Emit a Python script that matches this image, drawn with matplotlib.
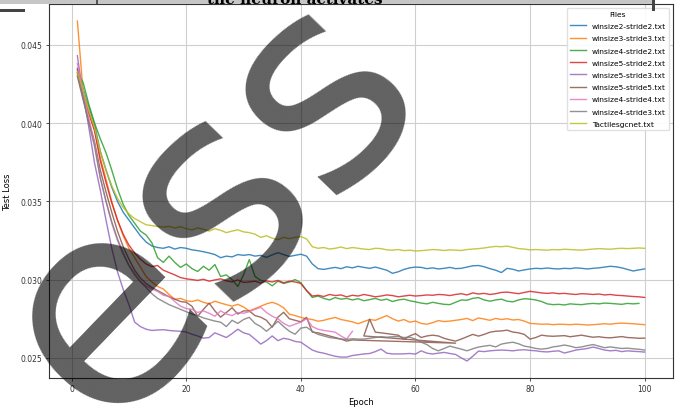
import numpy as np
import matplotlib
matplotlib.use("Agg")
import matplotlib.pyplot as plt
from matplotlib.patches import Rectangle

# Test loss per epoch, stored in units of 1e-5
winsize2_stride2 = [
    4350, 4220, 4100, 3990, 3820, 3700, 3590, 3500, 3430, 3380, 3330, 3280, 3240, 3215, 3205,
    3200, 3210, 3195, 3205, 3200, 3190, 3185, 3178, 3170, 3160, 3140, 3150, 3145, 3160, 3155,
    3160, 3150, 3155, 3142, 3158, 3172, 3160, 3148, 3155, 3162, 3150, 3100, 3070, 3065, 3072,
    3078, 3070, 3082, 3075, 3085, 3078, 3072, 3080, 3070, 3060, 3040, 3050, 3065, 3075, 3080,
    3078, 3070, 3075, 3068, 3072, 3078, 3070, 3072, 3080, 3088, 3090, 3082, 3070, 3060, 3045,
    3072, 3066, 3055, 3062, 3068, 3072, 3070, 3074, 3070, 3068, 3072, 3070, 3075, 3072, 3068,
    3072, 3075, 3080, 3085, 3082, 3075, 3065, 3055, 3062, 3068]

winsize3_stride3 = [
    4652, 4200, 4080, 3960, 3780, 3640, 3500, 3380, 3280, 3200, 3140, 3080, 3020, 2985, 2956,
    2940, 2905, 2874, 2880, 2865, 2860, 2870, 2855, 2845, 2862, 2850, 2840, 2830, 2842, 2825,
    2800, 2815, 2830, 2845, 2855, 2842, 2820, 2779, 2770, 2759, 2750, 2745, 2734, 2740, 2750,
    2758, 2745, 2738, 2730, 2718, 2732, 2745, 2740, 2755, 2770, 2750, 2735, 2745, 2728, 2735,
    2720, 2715, 2725, 2738, 2732, 2735, 2740, 2745, 2752, 2738, 2755, 2748, 2740, 2752, 2745,
    2750, 2742, 2745, 2735, 2720, 2718, 2715, 2716, 2712, 2715, 2714, 2712, 2715, 2713, 2710,
    2712, 2715, 2718, 2715, 2720, 2722, 2720, 2718, 2715, 2712]

winsize4_stride2 = [
    4320, 4260, 4120, 4000, 3900, 3810, 3700, 3580, 3480, 3410, 3360, 3310, 3285, 3235, 3140,
    3110, 3150, 3110, 3078, 3100, 3070, 3052, 3085, 3060, 3096, 3020, 3030, 3000, 2956, 3030,
    3128, 3020, 2995, 2985, 2960, 2990, 2975, 2985, 3000, 2980, 2930, 2886, 2895, 2880, 2870,
    2885, 2875, 2880, 2870, 2878, 2865, 2872, 2880, 2868, 2875, 2860, 2870, 2875, 2865, 2858,
    2850, 2845, 2855, 2848, 2842, 2840, 2855, 2870, 2868, 2880, 2885, 2870, 2862, 2870, 2875,
    2862, 2858, 2870, 2878, 2875, 2870, 2860, 2845, 2840, 2842, 2838, 2845, 2842, 2840, 2845,
    2848, 2845, 2850, 2848, 2845, 2842, 2848, 2845, 2848]

winsize5_stride2 = [
    4340, 4180, 4060, 3950, 3760, 3620, 3490, 3380, 3290, 3220, 3170, 3130, 3100, 3083, 3090,
    3060, 3045, 3030, 3013, 3005, 3000, 2995, 3002, 2990, 2998, 3005, 2992, 2985, 2998, 2982,
    2985, 2990, 2978, 2992, 2985, 2995, 2980, 2990, 2985, 2975, 2930, 2895, 2900, 2892, 2905,
    2898, 2902, 2890, 2900, 2895, 2905, 2898, 2890, 2895, 2902, 2898, 2890, 2895, 2900, 2895,
    2898, 2902, 2900, 2905, 2903, 2898, 2905, 2910, 2902, 2915, 2908, 2912, 2905, 2910, 2918,
    2920, 2915, 2910, 2918, 2925, 2920, 2915, 2912, 2915, 2910, 2912, 2908, 2905, 2910, 2908,
    2905, 2908, 2902, 2905, 2900, 2898, 2895, 2892, 2890, 2886]

winsize5_stride3 = [
    4430, 4180, 3973, 3744, 3572, 3380, 3200, 3050, 2937, 2840, 2728, 2700, 2683, 2675, 2678,
    2680, 2675, 2672, 2670, 2665, 2651, 2640, 2626, 2630, 2660, 2645, 2630, 2655, 2683, 2660,
    2650, 2620, 2588, 2610, 2640, 2610, 2625, 2618, 2605, 2600, 2575, 2550, 2537, 2530, 2520,
    2510, 2505, 2505, 2515, 2520, 2525, 2528, 2540, 2556, 2530, 2525, 2525, 2526, 2528, 2524,
    2545, 2530, 2525, 2530, 2535, 2528, 2522, 2500, 2480, 2510, 2543, 2540, 2545, 2548, 2550,
    2548, 2545, 2550, 2552, 2548, 2545, 2540, 2538, 2542, 2545, 2531, 2540, 2550, 2555, 2560,
    2569, 2560, 2550, 2545, 2548, 2540, 2545, 2542, 2540, 2537]

# this log revisits epoch 67 once before continuing from epoch 51
winsize5_stride5_epochs = list(range(1, 51)) + [67] + list(range(51, 101))
winsize5_stride5 = [
    4300, 4150, 4010, 3880, 3700, 3560, 3430, 3310, 3210, 3130, 3060, 3010, 2975, 2950, 2930,
    2910, 2890, 2875, 2860, 2855, 2830, 2766, 2810, 2850, 2800, 2760, 2790, 2820, 2780, 2800,
    2800, 2770, 2760, 2740, 2696, 2760, 2791, 2750, 2740, 2730, 2759, 2664, 2660, 2650, 2640,
    2630, 2620, 2607, 2615, 2613,
    2594,
    2640, 2747, 2664, 2660, 2655, 2650, 2645, 2620, 2640, 2655, 2630, 2640, 2645, 2640, 2625, 2615,
    2607, 2620, 2635, 2650, 2639, 2650, 2664, 2670, 2672, 2677, 2665, 2660, 2650, 2620, 2630,
    2645, 2640, 2638, 2640, 2642, 2635, 2640, 2645, 2638, 2632, 2635, 2630, 2628, 2632, 2636,
    2630, 2628, 2625, 2626]

winsize4_stride4 = [
    4380, 4200, 4030, 3870, 3650, 3500, 3360, 3250, 3160, 3090, 3040, 2990, 2960, 2940, 2924,
    2900, 2893, 2860, 2830, 2815, 2810, 2790, 2800, 2785, 2766, 2800, 2780, 2770, 2790, 2785,
    2795, 2810, 2823, 2790, 2766, 2750, 2720, 2702, 2715, 2728, 2750, 2700, 2683, 2675, 2670,
    2664, 2640, 2620, 2670]

winsize4_stride3 = [
    4320, 4160, 4000, 3850, 3650, 3500, 3370, 3260, 3170, 3090, 3030, 2985, 2950, 2910, 2880,
    2860, 2840, 2825, 2810, 2795, 2780, 2770, 2755, 2745, 2735, 2728, 2700, 2740, 2720, 2745,
    2759, 2720, 2700, 2670, 2700, 2734, 2700, 2670, 2651, 2690, 2696, 2670, 2650, 2640, 2630,
    2625, 2620, 2618, 2622, 2620, 2620, 2625, 2630, 2635, 2632, 2635, 2636, 2630, 2632, 2620,
    2600, 2585, 2560, 2545, 2560, 2575, 2565, 2556, 2545, 2558, 2569, 2575, 2580, 2570, 2588,
    2595, 2600, 2590, 2575, 2569, 2560, 2556, 2560, 2570, 2575, 2582, 2575, 2565, 2570, 2578,
    2585, 2575, 2565, 2570, 2565, 2560, 2562, 2558, 2555, 2550]

tactilesgcnet = [
    4330, 4210, 4080, 3970, 3820, 3700, 3600, 3520, 3460, 3420, 3390, 3370, 3350, 3345, 3340,
    3335, 3340, 3330, 3338, 3325, 3318, 3330, 3322, 3310, 3325, 3315, 3300, 3310, 3318, 3305,
    3300, 3290, 3270, 3280, 3265, 3255, 3270, 3262, 3270, 3275, 3260, 3210, 3200, 3205, 3195,
    3200, 3208, 3198, 3205, 3200, 3195, 3192, 3200, 3198, 3190, 3188, 3192, 3185, 3188, 3183,
    3185, 3188, 3192, 3190, 3186, 3190, 3188, 3186, 3192, 3195, 3198, 3202, 3208, 3212, 3210,
    3214, 3206, 3198, 3195, 3190, 3192, 3190, 3188, 3192, 3190, 3194, 3192, 3190, 3188, 3192,
    3195, 3198, 3196, 3194, 3198, 3200, 3198, 3200, 3202, 3200]

file_names = [
    "winsize2-stride2.txt", "winsize3-stride3.txt", "winsize4-stride2.txt",
    "winsize5-stride2.txt", "winsize5-stride3.txt", "winsize5-stride5.txt",
    "winsize4-stride4.txt", "winsize4-stride3.txt", "Tactilesgcnet.txt",
]
losses = [
    winsize2_stride2, winsize3_stride3, winsize4_stride2, winsize5_stride2,
    winsize5_stride3, winsize5_stride5, winsize4_stride4, winsize4_stride3,
    tactilesgcnet,
]
epochs = [list(range(1, len(v) + 1)) for v in losses]
epochs[5] = winsize5_stride5_epochs

W, H = 679, 410
fig = plt.figure(figsize=(W / 100, H / 100), dpi=100)
ax = fig.add_axes([49 / W, 1 - 379 / H, (673 - 49) / W, (379 - 5) / H])

for name, ep, vals in zip(file_names, epochs, losses):
    ax.plot(ep, np.asarray(vals) / 1e5, lw=1.0, alpha=0.85, label=name)

ax.grid(True, color="#cfcfcf", lw=0.8)
ax.set_axisbelow(True)
for s in ax.spines.values():
    s.set_color("#333333")
    s.set_linewidth(0.8)
ax.tick_params(labelsize=5.5, length=2.5, width=0.6, pad=2, colors="#333333")
ax.set_xlabel("Epoch", fontsize=6, labelpad=3)
ax.set_ylabel("Test Loss", fontsize=6, labelpad=6)

leg = ax.legend(title="Files", fontsize=5.4, title_fontsize=5.4, loc="upper right",
                handlelength=2.2, labelspacing=0.8, framealpha=0.9)
leg.get_frame().set_edgecolor("#dddddd")

# strip along the top edge with a cropped heading
fig.patches.append(Rectangle((0, 1 - 5 / H), 655 / W, 5 / H, transform=fig.transFigure,
                             facecolor="#c6c6c6", edgecolor="none", zorder=3))
fig.patches.append(Rectangle((652 / W, 1 - 12 / H), 3 / W, 12 / H, transform=fig.transFigure,
                             facecolor="#444444", edgecolor="none", zorder=3))
fig.patches.append(Rectangle((0, 1 - 13 / H), 25 / W, 3 / H, transform=fig.transFigure,
                             facecolor="#444444", edgecolor="none", zorder=3))
fig.patches.append(Rectangle((96 / W, 1 - 5 / H), 1.5 / W, 5 / H, transform=fig.transFigure,
                             facecolor="#555555", edgecolor="none", zorder=3))
fig.text(294.5 / W, 1 - 4.5 / H, "the neuron activates", family="DejaVu Serif",
         weight="bold", fontsize=11, ha="center", va="baseline", zorder=4)

# watermark
fig.text(265 / W, 1 - 262 / H, "ess", fontsize=205, fontweight="normal", rotation=46,
         rotation_mode="anchor", ha="center", va="baseline", color="black", alpha=0.62,
         zorder=10)

fig.savefig("out.png", dpi=100)
